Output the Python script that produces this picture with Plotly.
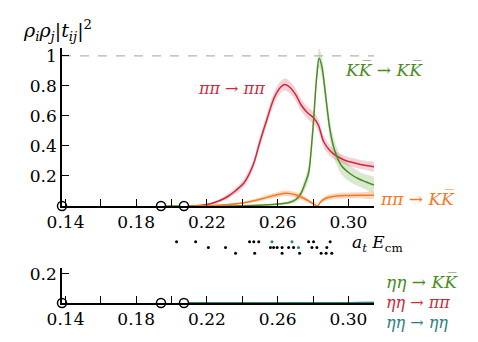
import plotly.graph_objects as go

# thresholds (open circles on the axes)
thresholds = [0.138, 0.194, 0.207]

# pi pi -> pi pi
e_pipi = [0.207, 0.215, 0.222, 0.228, 0.232, 0.236, 0.241, 0.246, 0.250, 0.254, 0.258, 0.2615, 0.264,
          0.267, 0.270, 0.2735, 0.277, 0.2805, 0.283, 0.286, 0.2895, 0.293, 0.298, 0.304, 0.310, 0.3145]
v_pipi = [0.0, 0.003, 0.015, 0.04, 0.065, 0.1, 0.155, 0.27, 0.43, 0.58, 0.72, 0.79, 0.81,
          0.79, 0.745, 0.67, 0.62, 0.585, 0.54, 0.43, 0.37, 0.335, 0.305, 0.285, 0.27, 0.262]
err_pipi = [0.0, 0.002, 0.006, 0.012, 0.016, 0.02, 0.025, 0.03, 0.035, 0.038, 0.04, 0.04, 0.04,
            0.04, 0.04, 0.04, 0.04, 0.04, 0.04, 0.04, 0.035, 0.03, 0.03, 0.03, 0.03, 0.03]

# K Kbar -> K Kbar
e_kk = [0.194, 0.24, 0.255, 0.262, 0.267, 0.2705, 0.273, 0.2755, 0.2775, 0.279, 0.2805, 0.282, 0.2835,
        0.285, 0.2865, 0.288, 0.2897, 0.2915, 0.2935, 0.296, 0.301, 0.306, 0.310, 0.3145]
v_kk = [0.0, 0.002, 0.008, 0.015, 0.025, 0.045, 0.08, 0.15, 0.22, 0.38, 0.6, 0.85, 0.985,
        0.93, 0.8, 0.65, 0.5, 0.4, 0.33, 0.27, 0.215, 0.18, 0.16, 0.14]
err_kk = [0.0, 0.002, 0.005, 0.008, 0.012, 0.02, 0.03, 0.04, 0.05, 0.06, 0.065, 0.065, 0.065,
          0.065, 0.065, 0.065, 0.065, 0.065, 0.06, 0.06, 0.055, 0.05, 0.05, 0.05]

# pi pi -> K Kbar
e_pik = [0.207, 0.22, 0.23, 0.24, 0.25, 0.258, 0.2645, 0.27, 0.275, 0.278, 0.2805, 0.2825, 0.2845,
         0.287, 0.290, 0.295, 0.300, 0.307, 0.3145]
v_pik = [0.0, 0.002, 0.008, 0.02, 0.045, 0.07, 0.085, 0.075, 0.05, 0.03, 0.012, 0.001, 0.03,
         0.05, 0.06, 0.068, 0.07, 0.071, 0.071]
err_pik = [0.0, 0.002, 0.004, 0.008, 0.012, 0.016, 0.018, 0.018, 0.016, 0.012, 0.008, 0.002, 0.012,
           0.016, 0.018, 0.02, 0.02, 0.02, 0.02]

# eta eta channels (bottom panel)
e_eta = [0.207, 0.24, 0.26, 0.27, 0.28, 0.29, 0.30, 0.3145]
v_etakk = [0.0, 0.0, 0.0, 0.001, 0.002, 0.002, 0.002, 0.003]
v_etapi = [0.0, 0.0, 0.0, 0.0, 0.0, 0.0, 0.0, 0.0]
v_etaeta = [0.0, 0.0, 0.0, 0.0, 0.0, 0.0005, 0.001, 0.004]

# lattice energy levels (three rows), teal = eta-eta dominated
lev_row1 = [0.2028, 0.2136, 0.2441, 0.2465, 0.2493, 0.2775, 0.2803, 0.2897]
lev_row1_teal = [0.2568, 0.2681]
lev_row2 = [0.2208, 0.2305, 0.2559, 0.2577, 0.2597, 0.2625, 0.2662, 0.2690, 0.2794, 0.2822, 0.2878]
lev_row2_teal = [0.2718]
lev_row3 = [0.2362, 0.2470, 0.2625, 0.2724, 0.2846, 0.2874, 0.2906]

# axis ticks
x_tickvals = [0.14, 0.16, 0.18, 0.20, 0.22, 0.24, 0.26, 0.28, 0.30]
x_ticktext = ["0.14", "", "0.18", "", "0.22", "", "0.26", "", "0.30"]
y_tickvals = [0.2, 0.4, 0.6, 0.8, 1]
y_ticktext = ["0.2", "0.4", "0.6", "0.8", "1"]

RED = "rgb(205,40,60)"
GREEN = "rgb(75,140,30)"
ORANGE = "rgb(250,120,30)"
TEAL = "rgb(40,130,130)"
FONT = "DejaVu Serif"

# page body has an 8px margin, so the figure is 470x334 and drawn from (8, 8)
OFF = 8
W, H = 478 - OFF, 342 - OFF
# plot area in page pixels: x 62..374, y 48..303
L, R, T, B = 62 - OFF, 374 - OFF, 48 - OFF, 303 - OFF


def xp(px):
    return (px - OFF - L) / (R - L)


def yp(py):
    return (B - (py - OFF)) / (B - T)


fig = go.Figure()


def band(x, y, err, fill, ya):
    up = [a + b for a, b in zip(y, err)]
    lo = [max(a - b, 0) for a, b in zip(y, err)]
    fig.add_trace(go.Scatter(x=x + x[::-1], y=up + lo[::-1], fill="toself", fillcolor=fill,
                             line=dict(width=0, shape="spline"), mode="lines",
                             hoverinfo="skip", showlegend=False, xaxis="x", yaxis=ya))


band(e_pipi, v_pipi, err_pipi, "rgba(215,90,105,0.28)", "y")
band(e_kk, v_kk, err_kk, "rgba(110,165,70,0.25)", "y")
band(e_pik, v_pik, err_pik, "rgba(250,140,80,0.35)", "y")

for x, y, c in [(e_pipi, v_pipi, RED), (e_kk, v_kk, GREEN), (e_pik, v_pik, ORANGE)]:
    fig.add_trace(go.Scatter(x=x, y=y, mode="lines", line=dict(color=c, width=1.5, shape="spline"),
                             showlegend=False, xaxis="x", yaxis="y"))

for y, c in [(v_etapi, RED), (v_etakk, GREEN), (v_etaeta, TEAL)]:
    fig.add_trace(go.Scatter(x=e_eta, y=y, mode="lines", line=dict(color=c, width=1.5, shape="spline"),
                             showlegend=False, xaxis="x2", yaxis="y2"))

# dashed unitarity line
fig.add_trace(go.Scatter(x=[0.138, 0.3145], y=[1, 1], mode="lines",
                         line=dict(color="rgb(180,180,180)", width=1.2, dash="dash"),
                         showlegend=False, xaxis="x", yaxis="y"))

# threshold circles
for xa, ya in [("x", "y"), ("x2", "y2")]:
    fig.add_trace(go.Scatter(x=thresholds, y=[0] * 3, mode="markers", cliponaxis=False,
                             marker=dict(size=9, color="white", line=dict(color="black", width=1.5)),
                             showlegend=False, xaxis=xa, yaxis=ya))

# energy levels
for row, (blk, teal) in enumerate([(lev_row1, lev_row1_teal), (lev_row2, lev_row2_teal), (lev_row3, [])]):
    fig.add_trace(go.Scatter(x=blk, y=[-row] * len(blk), mode="markers", marker=dict(size=3, color="black"),
                             showlegend=False, xaxis="x3", yaxis="y3"))
    if teal:
        fig.add_trace(go.Scatter(x=teal, y=[-row] * len(teal), mode="markers", marker=dict(size=3, color=TEAL),
                                 showlegend=False, xaxis="x3", yaxis="y3"))

xr = [0.138, 0.3145]
fig.update_layout(
    template="none",
    width=W, height=H, margin=dict(l=L, r=W - R, t=T, b=H - B),
    plot_bgcolor="white", paper_bgcolor="white",
    font=dict(family=FONT, size=17, color="black"),
    xaxis=dict(range=xr, anchor="y", domain=[0, 1]),
    xaxis2=dict(range=xr, anchor="y2", domain=[0, 1]),
    xaxis3=dict(range=xr, visible=False, anchor="y3", domain=[0, 1]),
    yaxis=dict(range=[0, 1.053], domain=[yp(206), 1], anchor="x"),
    yaxis2=dict(range=[0, 0.241], domain=[0, yp(268)], anchor="x2"),
    yaxis3=dict(range=[-2.5, 0.5], domain=[yp(256), yp(239)], visible=False, anchor="x3"),
)
common = dict(ticks="inside", ticklen=7, tickwidth=1.2, tickcolor="black", showgrid=False, zeroline=False,
              showline=True, linecolor="black", linewidth=1.5, automargin=False, tickmode="array")
fig.update_xaxes(selector=dict(anchor="y"), tickvals=x_tickvals, ticktext=x_ticktext, **common)
fig.update_xaxes(selector=dict(anchor="y2"), tickvals=x_tickvals, ticktext=x_ticktext, **common)
fig.update_yaxes(selector=dict(anchor="x"), tickvals=y_tickvals, ticktext=y_ticktext, **common)
fig.update_yaxes(selector=dict(anchor="x2"), tickvals=[0.2], ticktext=["0.2"], **common)
fig.update_xaxes(tickfont=dict(family=FONT, size=17, color="black"))
fig.update_yaxes(tickfont=dict(family=FONT, size=17, color="black"))


def label(text, px, py, color, size=17, anchor="center"):
    fig.add_annotation(text=text, x=xp(px), y=yp(py), xref="paper", yref="paper", showarrow=False,
                       xanchor=anchor, yanchor="middle", font=dict(family=FONT, size=size, color=color))


label("<i>ρ<sub>i</sub>ρ<sub>j</sub></i>|<i>t<sub>ij</sub></i>|<sup>2</sup>", 21, 30, "black", 19, "left")
label("<i>ππ</i> → <i>ππ</i>", 232, 88, RED, 16)
label("<i>KK\u0305</i> → <i>KK\u0305</i>", 384, 70, GREEN, 17)
label("<i>ππ</i> → <i>KK\u0305</i>", 378, 199, ORANGE, 17, "left")
label("<i>a<sub>t</sub> E</i><sub>cm</sub>", 350, 244, "black", 17, "left")
label("<i>ηη</i> → <i>KK\u0305</i>", 384, 282, GREEN, 17, "left")
label("<i>ηη</i> → <i>ππ</i>", 384, 302, RED, 16, "left")
label("<i>ηη</i> → <i>ηη</i>", 384, 322, TEAL, 16, "left")

fig.write_html("out.html")
